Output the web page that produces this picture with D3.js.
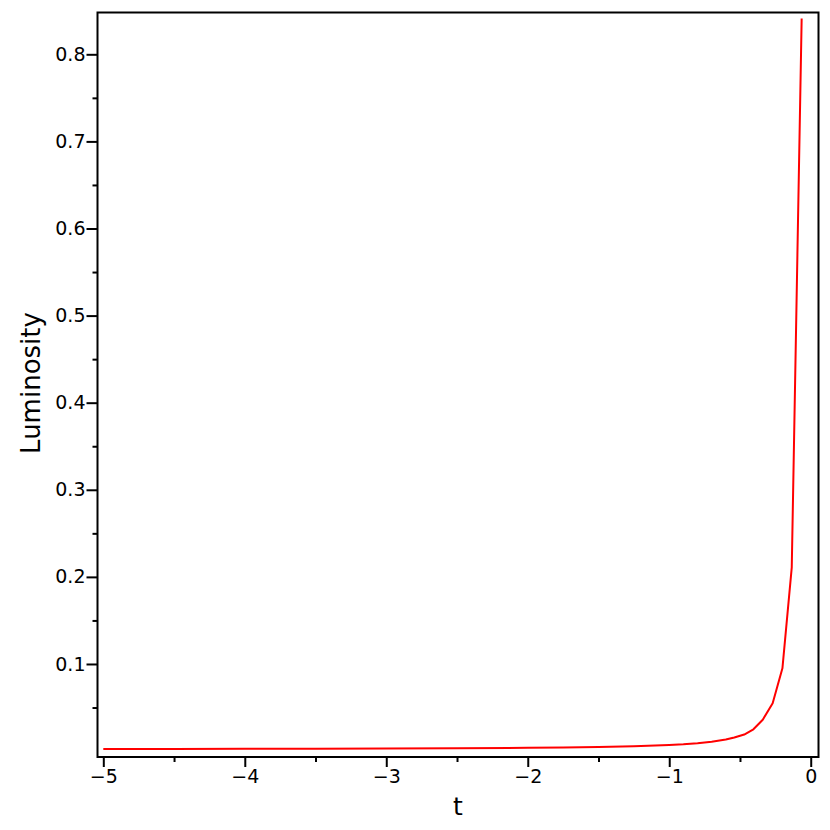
<!DOCTYPE html>
<html><head><meta charset="utf-8">
<script src="https://cdn.jsdelivr.net/npm/d3@7"></script>
<style>body{margin:0;background:#fff}svg{display:block}text{font-family:"DejaVu Sans",Verdana,sans-serif;fill:#000}</style>
</head><body>
<script>
const tValues = [-5.0,-4.5,-4.0,-3.5,-3.0,-2.5,-2.0,-1.75,-1.5,-1.25,-1.0,-0.9,-0.8,-0.7,-0.6,-0.54,-0.47,-0.405,-0.339,-0.269,-0.20,-0.134,-0.064];
const luminosity = [0.0025,0.0025,0.0026,0.0027,0.0030,0.0033,0.0037,0.0041,0.0046,0.0056,0.0070,0.0078,0.0090,0.0106,0.0132,0.0155,0.0190,0.0250,0.0360,0.0550,0.0950,0.2110,0.8410];
const xMajorTicks = [-5,-4,-3,-2,-1,0];
const xMinorTicks = [-4.5,-3.5,-2.5,-1.5,-0.5];
const yMajorTicks = [0.1,0.2,0.3,0.4,0.5,0.6,0.7,0.8];
const yMinorTicks = [0.05,0.15,0.25,0.35,0.45,0.55,0.65,0.75];
const xLabel = "t", yLabel = "Luminosity";

const W = 830, H = 830;
const L = 97.5, R = 818.5, T = 12.5, B = 757;
const svg = d3.select("body").append("svg").attr("width", W).attr("height", H);
const x = d3.scaleLinear().domain([-5.041, 0.055]).range([L, R]);
const y = d3.scaleLinear().domain([-0.0068, 0.848]).range([B, T]);

const fmtX = d => d < 0 ? "\u2212" + Math.abs(d) : String(d);
const fmtY = d => d3.format(".1f")(d);

const xAxisMajor = d3.axisBottom(x).tickValues(xMajorTicks).tickSize(10).tickPadding(3).tickFormat(fmtX);
const xAxisMinor = d3.axisBottom(x).tickValues(xMinorTicks).tickSize(5).tickFormat("");
const yAxisMajor = d3.axisLeft(y).tickValues(yMajorTicks).tickSize(11).tickPadding(1).tickFormat(fmtY);
const yAxisMinor = d3.axisLeft(y).tickValues(yMinorTicks).tickSize(5).tickFormat("");

function style(g){
  g.select(".domain").remove();
  g.selectAll(".tick line").attr("stroke","#000").attr("stroke-width",2);
  g.selectAll(".tick text").style("font-size","19px").attr("fill","#000");
}
svg.append("g").attr("transform",`translate(0,${B})`).call(xAxisMajor).call(style);
svg.append("g").attr("transform",`translate(0,${B})`).call(xAxisMinor).call(style);
svg.append("g").attr("transform",`translate(${L},0)`).call(yAxisMajor).call(style);
svg.append("g").attr("transform",`translate(${L},0)`).call(yAxisMinor).call(style);

svg.append("rect").attr("x",L).attr("y",T).attr("width",R-L).attr("height",B-T)
  .attr("fill","none").attr("stroke","#000").attr("stroke-width",2);

const line = d3.line().x((d,i)=>x(tValues[i])).y(d=>y(d));
svg.append("path").datum(luminosity).attr("d",line)
  .attr("fill","none").attr("stroke","#ff0000").attr("stroke-width",2).attr("stroke-linejoin","round");

svg.append("text").attr("x",(L+R)/2).attr("y",815).attr("text-anchor","middle")
  .style("font-size","25px").text(xLabel);
svg.append("text").attr("transform",`translate(40,383) rotate(-90)`).attr("text-anchor","middle")
  .style("font-size","26px").text(yLabel);
</script>
</body></html>
